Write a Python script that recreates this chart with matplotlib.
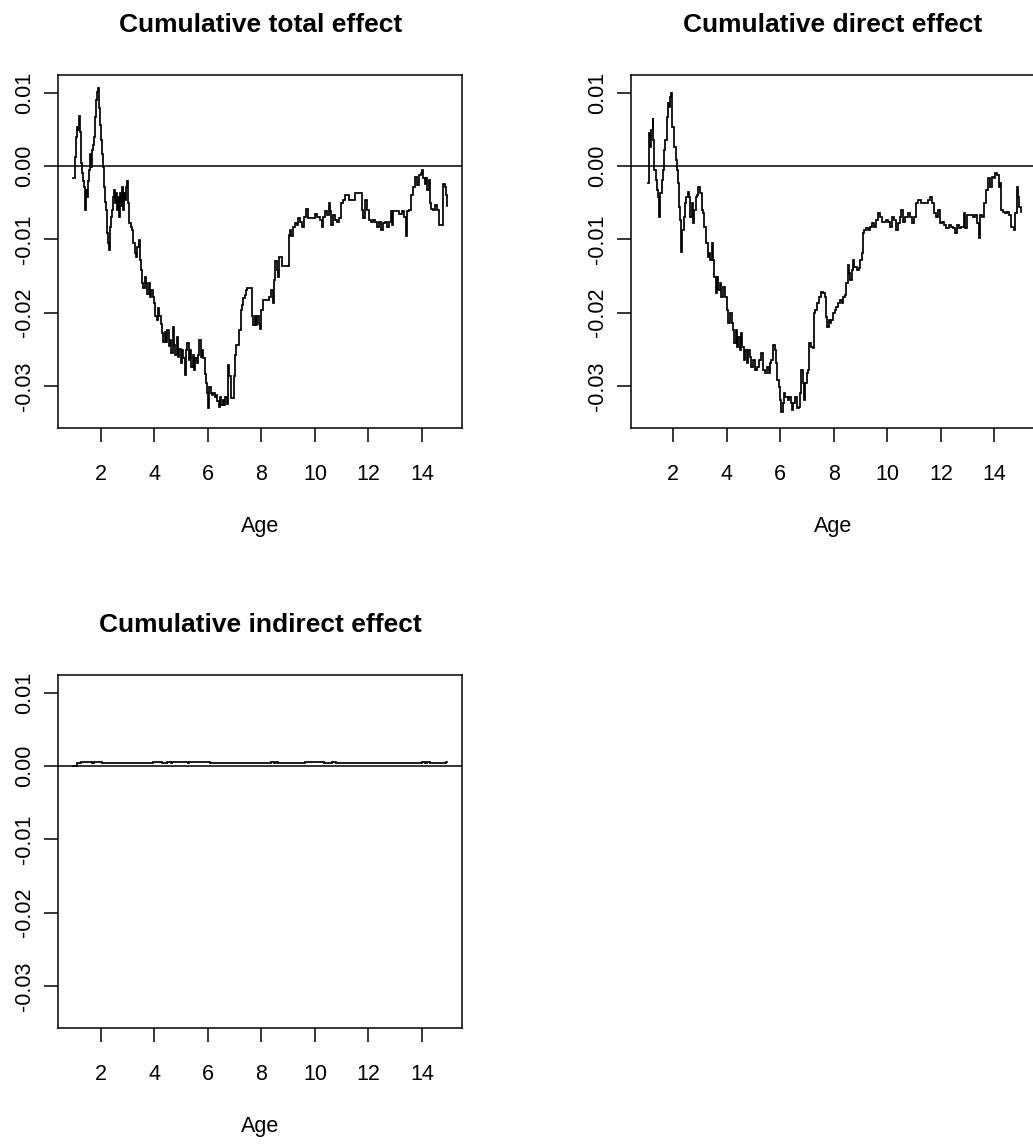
import matplotlib
matplotlib.use('Agg')
import matplotlib.pyplot as plt
import numpy as np

plt.rcParams['font.family'] = ['Liberation Sans', 'DejaVu Sans']

# ---------------- data (values in units of 1e-3) ----------------
total_age = [0.979, 1.029, 1.078, 1.128, 1.166, 1.203, 1.240, 1.278, 1.315, 1.352,
             1.390, 1.427, 1.465, 1.502, 1.539, 1.577, 1.614, 1.651, 1.689, 1.726,
             1.763, 1.801, 1.838, 1.875, 1.900, 1.938, 1.975, 2.012, 2.050, 2.087,
             2.125, 2.162, 2.199, 2.237, 2.274, 2.311, 2.349, 2.386, 2.423, 2.461,
             2.498, 2.535, 2.573, 2.610, 2.647, 2.685, 2.722, 2.760, 2.797, 2.834,
             2.872, 2.909, 2.946, 2.984, 3.021, 3.071, 3.121, 3.171, 3.220, 3.270,
             3.320, 3.370, 3.420, 3.457, 3.494, 3.544, 3.594, 3.644, 3.694, 3.743,
             3.793, 3.843, 3.893, 3.943, 3.992, 4.042, 4.092, 4.142, 4.192, 4.242,
             4.291, 4.341, 4.391, 4.441, 4.491, 4.540, 4.590, 4.640, 4.690, 4.740,
             4.789, 4.839, 4.889, 4.939, 4.989, 5.039, 5.088, 5.138, 5.188, 5.238,
             5.288, 5.337, 5.387, 5.437, 5.487, 5.537, 5.586, 5.636, 5.686, 5.736,
             5.786, 5.835, 5.885, 5.935, 5.985, 6.022, 6.060, 6.110, 6.159, 6.209,
             6.259, 6.309, 6.359, 6.408, 6.458, 6.508, 6.558, 6.608, 6.657, 6.707,
             6.757, 6.807, 6.857, 6.931, 6.981, 7.019, 7.068, 7.131, 7.181, 7.230,
             7.280, 7.330, 7.380, 7.430, 7.480, 7.654, 7.704, 7.753, 7.803, 7.853,
             7.903, 7.953, 8.002, 8.077, 8.202, 8.276, 8.351, 8.426, 8.476, 8.526,
             8.575, 8.625, 8.675, 8.775, 8.974, 9.024, 9.073, 9.123, 9.173, 9.248,
             9.323, 9.372, 9.447, 9.522, 9.597, 9.671, 9.746, 9.945, 10.020, 10.095,
             10.194, 10.269, 10.319, 10.394, 10.468, 10.518, 10.568, 10.618, 10.667, 10.742,
             10.842, 10.917, 10.991, 11.066, 11.141, 11.290, 11.440, 11.514, 11.739, 11.763,
             11.813, 11.863, 11.963, 12.012, 12.087, 12.162, 12.237, 12.311, 12.386, 12.461,
             12.536, 12.610, 12.685, 12.760, 12.835, 12.885, 12.934, 13.059, 13.159, 13.258,
             13.333, 13.408, 13.458, 13.532, 13.607, 13.682, 13.756, 13.831, 13.881, 13.956,
             14.005, 14.055, 14.105, 14.155, 14.205, 14.254, 14.304, 14.354, 14.429, 14.479,
             14.553, 14.628, 14.753, 14.802, 14.852, 14.902, 14.952]
total_effect = [-1.68, 1.27, 4.0, 5.36, 4.9, 6.8, 4.7, 0.36, -1.0, -2.1,
                -2.8, -6.0, -3.3, -4.2, -2.1, -0.5, 1.7, -0.1, 2.2, 2.9,
                4.0, 6.7, 9.0, 10.1, 10.6, 7.9, 5.6, 3.5, 1.7, -0.1,
                -2.8, -4.9, -6.0, -9.2, -10.5, -11.5, -8.3, -6.9, -6.0, -4.2,
                -3.3, -5.1, -3.7, -6.0, -4.2, -6.9, -3.7, -5.5, -2.8, -6.0,
                -3.7, -4.6, -2.8, -2.1, -5.1, -7.8, -8.3, -8.7, -10.5, -11.9,
                -12.4, -11.0, -10.1, -12.8, -14.2, -16.0, -16.7, -15.1, -16.0, -17.4,
                -16.0, -17.8, -16.9, -17.8, -18.7, -20.5, -21.0, -19.4, -20.5, -21.5,
                -22.8, -24.0, -22.6, -24.0, -22.4, -24.6, -23.7, -25.5, -21.9, -24.4,
                -25.8, -23.3, -26.0, -24.9, -26.9, -25.1, -26.2, -28.5, -25.1, -24.2,
                -26.5, -25.1, -27.4, -25.8, -27.8, -26.2, -26.9, -25.8, -23.7, -26.0,
                -25.1, -26.2, -28.3, -29.6, -31.0, -33.0, -30.1, -31.0, -31.2, -31.0,
                -31.5, -31.2, -32.1, -32.8, -31.5, -32.6, -31.9, -32.6, -31.5, -32.4,
                -27.1, -28.7, -31.7, -31.7, -28.7, -25.8, -24.4, -24.4, -22.4, -19.6,
                -19.0, -18.0, -17.6, -16.9, -16.7, -20.5, -21.7, -20.5, -21.7, -20.5,
                -21.5, -22.2, -19.6, -18.3, -18.3, -17.9, -16.9, -18.7, -15.5, -13.0,
                -14.2, -15.1, -12.4, -13.7, -13.7, -9.4, -8.7, -9.6, -8.3, -7.8,
                -8.0, -7.1, -7.6, -8.3, -6.9, -5.8, -7.1, -7.1, -6.5, -6.9,
                -7.4, -8.3, -6.9, -6.2, -6.7, -5.1, -6.2, -8.0, -6.7, -7.4,
                -7.6, -7.1, -5.1, -4.6, -4.0, -4.6, -4.6, -3.7, -3.7, -6.0,
                -7.1, -4.6, -6.0, -7.4, -7.6, -7.4, -7.6, -8.3, -7.6, -8.7,
                -7.8, -7.6, -8.3, -7.6, -6.2, -8.0, -6.2, -6.2, -6.5, -6.2,
                -6.9, -9.6, -6.2, -6.0, -4.0, -2.8, -1.5, -2.6, -1.2, -1.0,
                -0.5, -1.7, -2.4, -1.7, -3.3, -1.9, -5.1, -5.8, -6.0, -5.3,
                -6.0, -8.0, -8.0, -2.4, -2.8, -4.0, -5.5]

direct_age = [1.045, 1.082, 1.144, 1.181, 1.231, 1.268, 1.305, 1.355, 1.404, 1.454,
              1.491, 1.529, 1.578, 1.628, 1.665, 1.702, 1.764, 1.814, 1.864, 1.901,
              1.938, 1.975, 2.037, 2.099, 2.136, 2.174, 2.223, 2.273, 2.310, 2.347,
              2.397, 2.447, 2.496, 2.546, 2.596, 2.645, 2.695, 2.744, 2.794, 2.844,
              2.893, 2.943, 2.993, 3.067, 3.117, 3.166, 3.241, 3.290, 3.340, 3.390,
              3.439, 3.489, 3.538, 3.588, 3.638, 3.687, 3.737, 3.787, 3.861, 3.935,
              4.010, 4.060, 4.122, 4.184, 4.233, 4.283, 4.333, 4.382, 4.432, 4.481,
              4.531, 4.581, 4.630, 4.680, 4.754, 4.804, 4.866, 4.928, 5.002, 5.077,
              5.151, 5.226, 5.300, 5.350, 5.424, 5.499, 5.573, 5.623, 5.672, 5.722,
              5.797, 5.846, 5.896, 5.945, 5.995, 6.045, 6.094, 6.144, 6.194, 6.243,
              6.293, 6.342, 6.392, 6.442, 6.491, 6.541, 6.615, 6.690, 6.739, 6.789,
              6.839, 6.888, 6.938, 6.988, 7.037, 7.074, 7.136, 7.236, 7.261, 7.310,
              7.385, 7.459, 7.533, 7.608, 7.658, 7.707, 7.757, 7.806, 7.856, 7.906,
              7.980, 8.030, 8.079, 8.154, 8.228, 8.303, 8.352, 8.402, 8.476, 8.526,
              8.576, 8.625, 8.675, 8.725, 8.774, 8.873, 8.948, 8.998, 9.047, 9.097,
              9.146, 9.221, 9.295, 9.370, 9.444, 9.519, 9.593, 9.643, 9.717, 9.792,
              9.891, 9.965, 10.040, 10.114, 10.189, 10.238, 10.313, 10.387, 10.462, 10.511,
              10.586, 10.660, 10.759, 10.834, 10.908, 10.983, 11.082, 11.132, 11.256, 11.429,
              11.504, 11.603, 11.677, 11.752, 11.826, 11.876, 11.950, 12.025, 12.124, 12.199,
              12.298, 12.372, 12.447, 12.521, 12.596, 12.695, 12.769, 12.869, 12.918, 12.993,
              13.067, 13.191, 13.290, 13.365, 13.414, 13.464, 13.538, 13.613, 13.687, 13.762,
              13.836, 13.911, 13.985, 14.035, 14.085, 14.159, 14.209, 14.258, 14.308, 14.382,
              14.482, 14.556, 14.630, 14.730, 14.779, 14.829, 14.879, 14.928, 14.978]
direct_effect = [-2.36, 4.45, 2.64, 4.91, 6.5, 3.55, -0.55, -1.91, -3.27, -4.18,
                 -6.91, -3.73, -1.91, -0.55, 2.18, 3.55, 6.73, 8.55, 8.09, 9.45,
                 9.91, 5.36, 2.64, 0.82, -0.55, -2.36, -5.55, -7.36, -11.68, -8.73,
                 -6.91, -5.09, -4.18, -3.5, -4.18, -6.91, -5.09, -7.82, -6.0, -4.18,
                 -3.95, -2.82, -3.73, -6.0, -6.45, -8.27, -10.55, -12.36, -11.91, -12.82,
                 -10.55, -12.82, -15.09, -17.36, -15.09, -16.91, -16.0, -17.82, -16.45, -17.82,
                 -19.64, -21.45, -20.09, -21.45, -22.36, -24.18, -22.36, -24.64, -23.27, -25.09,
                 -22.82, -24.64, -26.45, -25.09, -26.91, -25.09, -26.0, -27.36, -26.45, -27.82,
                 -27.36, -26.45, -25.55, -27.82, -28.27, -27.36, -28.27, -26.91, -26.45, -24.41,
                 -25.09, -26.91, -29.18, -30.09, -31.91, -33.5, -32.36, -31.0, -31.45, -31.45,
                 -31.91, -31.45, -32.36, -33.27, -32.36, -31.45, -33.05, -32.82, -31.0, -27.82,
                 -29.64, -31.91, -29.64, -28.27, -27.82, -24.18, -24.64, -24.86, -20.09, -19.64,
                 -18.73, -17.82, -17.14, -17.36, -17.82, -20.55, -21.91, -21.0, -21.45, -21.0,
                 -20.09, -19.64, -19.18, -18.73, -18.27, -18.73, -17.82, -17.59, -16.0, -13.5,
                 -14.64, -15.55, -14.18, -12.82, -13.73, -14.18, -13.95, -12.82, -11.91, -9.18,
                 -8.73, -8.5, -8.73, -8.27, -7.82, -8.27, -7.36, -6.45, -6.91, -7.59,
                 -7.59, -7.36, -7.59, -8.27, -6.91, -7.36, -8.73, -7.82, -6.91, -6.0,
                 -7.59, -6.91, -6.45, -6.91, -7.82, -6.91, -5.09, -4.64, -5.09, -5.09,
                 -4.64, -4.18, -5.09, -6.45, -6.91, -6.0, -7.82, -7.59, -8.05, -8.5,
                 -8.05, -8.27, -8.5, -9.18, -8.05, -8.5, -8.27, -6.45, -8.5, -6.68,
                 -6.68, -6.91, -6.68, -7.82, -9.86, -6.68, -6.91, -5.09, -3.27, -1.68,
                 -2.82, -1.45, -1.68, -1.0, -1.23, -2.82, -2.36, -6.0, -6.23, -6.45,
                 -6.23, -6.68, -8.27, -8.73, -6.45, -2.82, -4.18, -5.55, -6.23]

indirect_age = [0.98, 1.13, 1.25, 1.68, 1.74, 2.04, 3.96, 4.28, 4.49, 4.61,
                4.66, 5.27, 5.31, 6.08, 8.35, 8.49, 8.53, 8.63, 9.63, 10.35,
                10.63, 10.79, 13.99, 14.13, 14.17, 14.30, 14.90, 14.92]
indirect_effect = [0.0, 0.35, 0.6, 0.35, 0.6, 0.35, 0.6, 0.35, 0.6, 0.35,
                   0.6, 0.35, 0.6, 0.35, 0.6, 0.35, 0.6, 0.35, 0.6, 0.35,
                   0.6, 0.35, 0.6, 0.35, 0.6, 0.35, 0.5, 0.5]

titles = ["Cumulative total effect", "Cumulative direct effect",
          "Cumulative indirect effect"]
age_ticks = [2, 4, 6, 8, 10, 12, 14]
effect_ticks = [-0.03, -0.02, -0.01, 0.00, 0.01]
effect_labels = ["-0.03", "-0.02", "-0.01", "0.00", "0.01"]
xlabel = "Age"

# ---------------- layout ----------------
W, H = 1033, 1146
DPI = 100
fig = plt.figure(figsize=(W / DPI, H / DPI), dpi=DPI)
fig.patch.set_facecolor('white')

BOX_W, BOX_H = 404.0, 352.7


def add_box(left, top):
    return fig.add_axes([left / W, 1 - (top + BOX_H) / H, BOX_W / W, BOX_H / H])


XLIM = (0.4168, 15.505)
YLIM = (-0.03569, 0.01241)


def panel(ax, x, y, title):
    ax.step(np.asarray(x), np.asarray(y) * 1e-3, where='post',
            color='black', lw=1.25, solid_joinstyle='miter')
    ax.axhline(0, color='black', lw=1.1)
    ax.set_xlim(XLIM)
    ax.set_ylim(YLIM)
    ax.set_xticks(age_ticks)
    ax.set_xticklabels([str(t) for t in age_ticks])
    ax.set_yticks(effect_ticks)
    ax.set_yticklabels(effect_labels, rotation=90, va='center')
    ax.tick_params(direction='out', length=10, width=1.1, labelsize=15.5,
                   colors='black')
    ax.tick_params(axis='x', pad=16)
    ax.tick_params(axis='y', pad=6.5)
    for s in ax.spines.values():
        s.set_linewidth(1.1)
        s.set_color('black')
    ax.text(0.5, 1 + 43.3 / BOX_H, title, transform=ax.transAxes,
            ha='center', va='baseline', fontsize=19, fontweight='bold')
    ax.text(0.5, -104.0 / BOX_H, xlabel, transform=ax.transAxes,
            ha='center', va='baseline', fontsize=15.5)


ax1 = add_box(58.3, 75.0)
ax2 = add_box(630.7, 75.0)
ax3 = add_box(58.3, 675.0)

panel(ax1, total_age, total_effect, titles[0])
panel(ax2, direct_age, direct_effect, titles[1])
panel(ax3, indirect_age, indirect_effect, titles[2])

fig.savefig('out.png', dpi=DPI, facecolor='white')
